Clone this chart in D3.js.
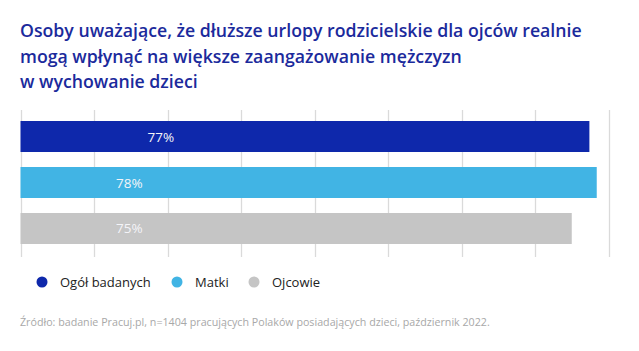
<!DOCTYPE html>
<html>
<head>
<meta charset="utf-8">
<script src="https://cdn.jsdelivr.net/npm/d3@7"></script>
<style>
  html, body { margin: 0; padding: 0; background: #fff; }
  svg { display: block; font-family: "Open Sans", sans-serif; }
</style>
</head>
<body>
<div id="chart"></div>
<script>
// =========================
// DATA
// =========================
const titleLines = [
  "Osoby uważające, że dłuższe urlopy rodzicielskie dla ojców realnie",
  "mogą wpłynąć na większe zaangażowanie mężczyzn",
  "w wychowanie dzieci"
];
const groups = ["Ogół badanych", "Matki", "Ojcowie"];
const values = [77.4, 78.4, 75.0];
const valueLabels = ["77%", "78%", "75%"];
const colors = ["#0e28ab", "#41b4e4", "#c5c5c5"];
const gridTicks = [0, 10, 20, 30, 40, 50, 60, 70, 80];
const source = "Źródło: badanie Pracuj.pl, n=1404 pracujących Polaków posiadających dzieci, październik 2022.";

// =========================
// SVG SETUP
// =========================
const W = 639, H = 351;
const svg = d3.select("#chart")
  .append("svg")
  .attr("width", W)
  .attr("height", H);

// =========================
// TITLE
// =========================
svg.append("text")
  .attr("x", 20)
  .attr("y", 37)
  .style("fill", "#1b2a9c")
  .style("font-size", "17.7px")
  .style("font-weight", 600)
  .selectAll("tspan")
  .data(titleLines)
  .enter()
  .append("tspan")
  .attr("x", 20)
  .attr("dy", (d, i) => i === 0 ? 0 : 25.5)
  .text(d => d);

// =========================
// SCALES
// =========================
const x = d3.scaleLinear()
  .domain([0, 80])
  .range([20.5, 608.5]);

const y = d3.scaleBand()
  .domain(groups)
  .range([121, 244])
  .paddingInner(0.326)
  .paddingOuter(0);

// =========================
// GRID
// =========================
svg.selectAll(".grid")
  .data(gridTicks)
  .enter()
  .append("line")
  .attr("x1", d => Math.round(x(d)) + 0.5)
  .attr("x2", d => Math.round(x(d)) + 0.5)
  .attr("y1", 110)
  .attr("y2", 257)
  .attr("stroke", "#dadada")
  .attr("stroke-width", 1.3);

// =========================
// BARS
// =========================
svg.selectAll(".bar")
  .data(groups)
  .enter()
  .append("rect")
  .attr("x", x(0))
  .attr("y", d => y(d))
  .attr("width", (d, i) => x(values[i]) - x(0))
  .attr("height", y.bandwidth())
  .attr("fill", (d, i) => colors[i]);

// value labels sit inside the bars
const labelAt = [19.1, 14.8, 14.8];
svg.selectAll(".lbl")
  .data(groups)
  .enter()
  .append("text")
  .attr("x", (d, i) => x(labelAt[i]))
  .attr("y", d => y(d) + y.bandwidth() / 2 + 5)
  .attr("text-anchor", "middle")
  .style("fill", "#f4f4f8")
  .style("font-size", "13.5px")
  .text((d, i) => valueLabels[i]);

// =========================
// LEGEND
// =========================
const legendX = [42, 177, 254];
const leg = svg.selectAll(".leg")
  .data(groups)
  .enter()
  .append("g")
  .attr("transform", (d, i) => `translate(${legendX[i]},282)`);

leg.append("circle")
  .attr("r", 5.5)
  .attr("fill", (d, i) => colors[i]);

leg.append("text")
  .attr("x", 18)
  .attr("y", 4.5)
  .style("fill", "#222")
  .style("font-size", "13px")
  .text(d => d);

// =========================
// SOURCE
// =========================
svg.append("text")
  .attr("x", 20)
  .attr("y", 326)
  .style("fill", "#a8a8a8")
  .style("font-size", "10.7px")
  .text(source);
</script>
</body>
</html>
